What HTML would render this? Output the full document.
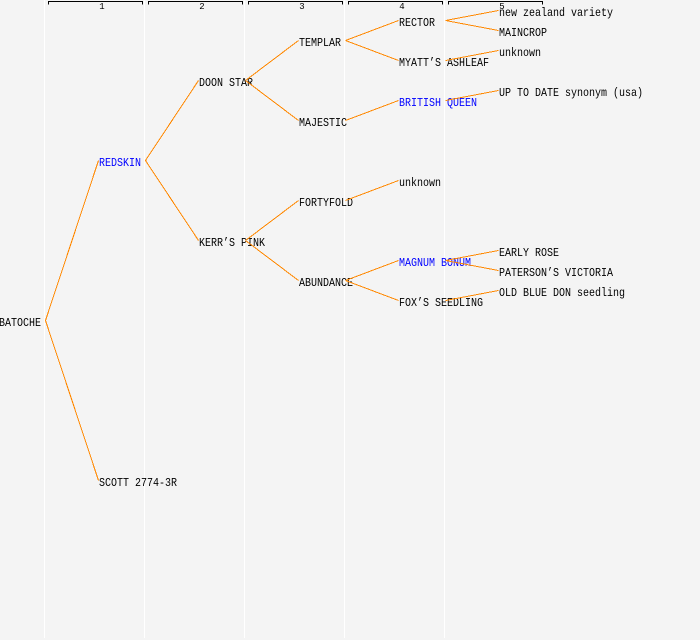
<!DOCTYPE html>
<html><head><meta charset="utf-8"><style>
html,body{margin:0;padding:0;background:#f4f4f4;}
svg{display:block;}
text{font-family:"Liberation Mono","DejaVu Sans Mono",monospace;font-size:12px;}
.h{font-size:9px;}
.b{fill:#0000ff;}
</style></head><body>
<svg width="700" height="640" viewBox="0 0 700 640" xmlns="http://www.w3.org/2000/svg">
<rect width="700" height="640" fill="#f4f4f4"/>
<g stroke="#ffffff" stroke-width="1" shape-rendering="crispEdges">
<line x1="44.5" y1="0" x2="44.5" y2="638"/>
<line x1="144.5" y1="0" x2="144.5" y2="638"/>
<line x1="244.5" y1="0" x2="244.5" y2="638"/>
<line x1="344.5" y1="0" x2="344.5" y2="638"/>
<line x1="444.5" y1="0" x2="444.5" y2="638"/>
</g>
<g stroke="#000" stroke-width="1" fill="none" shape-rendering="crispEdges">
<polyline points="48.5,4.5 48.5,1.5 142.5,1.5 142.5,4.5"/>
<polyline points="148.5,4.5 148.5,1.5 242.5,1.5 242.5,4.5"/>
<polyline points="248.5,4.5 248.5,1.5 342.5,1.5 342.5,4.5"/>
<polyline points="348.5,4.5 348.5,1.5 442.5,1.5 442.5,4.5"/>
<polyline points="448.5,4.5 448.5,1.5 542.5,1.5 542.5,4.5"/>
</g>
<g class="h" text-anchor="middle">
<text class="h" x="102" y="9">1</text>
<text class="h" x="202" y="9">2</text>
<text class="h" x="302" y="9">3</text>
<text class="h" x="402" y="9">4</text>
<text class="h" x="502" y="9">5</text>
</g>
<g>
<text x="-1" y="326" textLength="42" lengthAdjust="spacingAndGlyphs">BATOCHE</text>
<text class="b" x="99" y="166" textLength="42" lengthAdjust="spacingAndGlyphs">REDSKIN</text>
<text x="99" y="486" textLength="78" lengthAdjust="spacingAndGlyphs">SCOTT 2774-3R</text>
<text x="199" y="86" textLength="54" lengthAdjust="spacingAndGlyphs">DOON STAR</text>
<text x="199" y="246" textLength="66" lengthAdjust="spacingAndGlyphs">KERR’S PINK</text>
<text x="299" y="46" textLength="42" lengthAdjust="spacingAndGlyphs">TEMPLAR</text>
<text x="299" y="126" textLength="48" lengthAdjust="spacingAndGlyphs">MAJESTIC</text>
<text x="299" y="206" textLength="54" lengthAdjust="spacingAndGlyphs">FORTYFOLD</text>
<text x="299" y="286" textLength="54" lengthAdjust="spacingAndGlyphs">ABUNDANCE</text>
<text x="399" y="26" textLength="36" lengthAdjust="spacingAndGlyphs">RECTOR</text>
<text x="399" y="66" textLength="90" lengthAdjust="spacingAndGlyphs">MYATT’S ASHLEAF</text>
<text class="b" x="399" y="106" textLength="78" lengthAdjust="spacingAndGlyphs">BRITISH QUEEN</text>
<text x="399" y="186" textLength="42" lengthAdjust="spacingAndGlyphs">unknown</text>
<text class="b" x="399" y="266" textLength="72" lengthAdjust="spacingAndGlyphs">MAGNUM BONUM</text>
<text x="399" y="306" textLength="84" lengthAdjust="spacingAndGlyphs">FOX’S SEEDLING</text>
<text x="499" y="16" textLength="114" lengthAdjust="spacingAndGlyphs">new zealand variety</text>
<text x="499" y="36" textLength="48" lengthAdjust="spacingAndGlyphs">MAINCROP</text>
<text x="499" y="56" textLength="42" lengthAdjust="spacingAndGlyphs">unknown</text>
<text x="499" y="96" textLength="144" lengthAdjust="spacingAndGlyphs">UP TO DATE synonym (usa)</text>
<text x="499" y="256" textLength="60" lengthAdjust="spacingAndGlyphs">EARLY ROSE</text>
<text x="499" y="276" textLength="114" lengthAdjust="spacingAndGlyphs">PATERSON’S VICTORIA</text>
<text x="499" y="296" textLength="126" lengthAdjust="spacingAndGlyphs">OLD BLUE DON seedling</text>
</g>
<g stroke="#ff8800" stroke-width="1" fill="none" shape-rendering="crispEdges">
<line x1="45.5" y1="320.5" x2="98.5" y2="160.5"/>
<line x1="45.5" y1="320.5" x2="98.5" y2="480.5"/>
<line x1="145.5" y1="160.5" x2="198.5" y2="80.5"/>
<line x1="145.5" y1="160.5" x2="198.5" y2="240.5"/>
<line x1="245.5" y1="80.5" x2="298.5" y2="40.5"/>
<line x1="245.5" y1="80.5" x2="298.5" y2="120.5"/>
<line x1="245.5" y1="240.5" x2="298.5" y2="200.5"/>
<line x1="245.5" y1="240.5" x2="298.5" y2="280.5"/>
<line x1="345.5" y1="40.5" x2="398.5" y2="20.5"/>
<line x1="345.5" y1="40.5" x2="398.5" y2="60.5"/>
<line x1="345.5" y1="120.5" x2="398.5" y2="100.5"/>
<line x1="345.5" y1="200.5" x2="398.5" y2="180.5"/>
<line x1="345.5" y1="280.5" x2="398.5" y2="260.5"/>
<line x1="345.5" y1="280.5" x2="398.5" y2="300.5"/>
<line x1="445.5" y1="20.5" x2="498.5" y2="10.5"/>
<line x1="445.5" y1="20.5" x2="498.5" y2="30.5"/>
<line x1="445.5" y1="60.5" x2="498.5" y2="50.5"/>
<line x1="445.5" y1="100.5" x2="498.5" y2="90.5"/>
<line x1="445.5" y1="260.5" x2="498.5" y2="250.5"/>
<line x1="445.5" y1="260.5" x2="498.5" y2="270.5"/>
<line x1="445.5" y1="300.5" x2="498.5" y2="290.5"/>
</g>
</svg>
</body></html>
